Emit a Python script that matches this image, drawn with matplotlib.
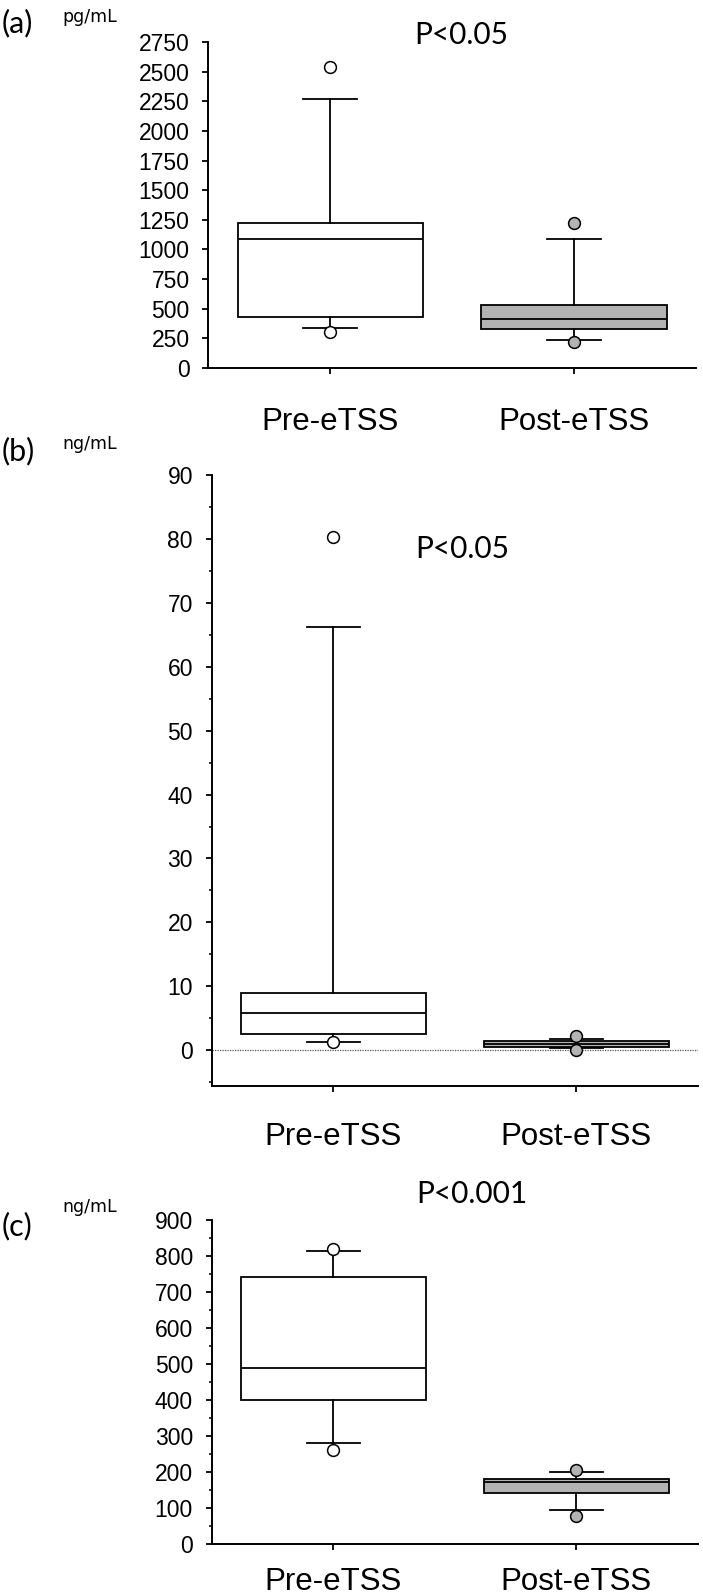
import numpy as np
import matplotlib
matplotlib.use("Agg")
import matplotlib.pyplot as plt
from matplotlib.ticker import MultipleLocator

# box statistics: [Pre-eTSS, Post-eTSS]
groups = ["Pre-eTSS", "Post-eTSS"]

a_whishi = [2275, 1090]
a_q3 = [1220, 530]
a_med = [1090, 415]
a_q1 = [430, 330]
a_whislo = [335, 230]
a_fliers = [[2540, 300], [1225, 220]]

b_whishi = [66.2, 1.8]
b_q3 = [8.9, 1.5]
b_med = [5.8, 1.0]
b_q1 = [2.6, 0.5]
b_whislo = [1.3, 0.3]
b_fliers = [[80.3, 1.3], [2.3, 0.05]]

c_whishi = [815, 202]
c_q3 = [741, 180]
c_med = [488, 172]
c_q1 = [401, 142]
c_whislo = [282, 96]
c_fliers = [[819, 261], [205, 79]]

panel_labels = ["(a)", "(b)", "(c)"]
units = ["pg/mL", "ng/mL", "ng/mL"]
pvalues = ["P<0.05", "P<0.05", "P<0.001"]

W, H = 703, 1596
fig = plt.figure(figsize=(W / 100, H / 100), dpi=100)

def fx(px):
    return px / W

def fy(py):
    return 1 - py / H

def make_ax(l, r, t, b):
    return fig.add_axes([fx(l), fy(b), fx(r) - fx(l), fy(t) - fy(b)])

fills = ["white", "#b3b3b3"]
lw = 1.3

def draw_box(ax, whishi, q3, med, q1, whislo, fliers):
    stats = []
    for i in range(2):
        stats.append(dict(med=med[i], q1=q1[i], q3=q3[i], whislo=whislo[i],
                          whishi=whishi[i], fliers=fliers[i]))
    bp = ax.bxp(stats, positions=[1, 2], widths=0.76, patch_artist=True,
                showfliers=True,
                boxprops=dict(linewidth=lw, edgecolor="black"),
                medianprops=dict(color="black", linewidth=lw),
                whiskerprops=dict(color="black", linewidth=lw),
                capprops=dict(color="black", linewidth=lw),
                capwidths=0.22)
    for patch, c in zip(bp["boxes"], fills):
        patch.set_facecolor(c)
    for fl, c in zip(bp["fliers"], fills):
        fl.set(marker="o", markersize=8.5, markerfacecolor=c,
               markeredgecolor="black", markeredgewidth=1.1, linestyle="none")
    return bp

def style(ax, xpad):
    for s in ["top", "right"]:
        ax.spines[s].set_visible(False)
    for s in ["left", "bottom"]:
        ax.spines[s].set_linewidth(1.4)
    ax.set_xlim(0.5, 2.5)
    ax.set_xticks([1, 2])
    ax.set_xticklabels(groups, fontsize=22.5, family="Liberation Sans")
    ax.tick_params(axis="y", which="major", direction="out", length=4.5,
                   width=1.3, pad=9, labelsize=16.5)
    ax.tick_params(axis="y", which="minor", direction="out", length=2.5, width=1.1)
    ax.tick_params(axis="x", direction="out", length=4.5, width=1.3, pad=xpad)
    for lab in ax.get_yticklabels():
        lab.set_family("Liberation Sans")

# (a)
ax1 = make_ax(208.3, 696, 42.3, 367.7)
draw_box(ax1, a_whishi, a_q3, a_med, a_q1, a_whislo, a_fliers)
ax1.set_ylim(0, 2750)
ax1.set_yticks(np.arange(0, 2751, 250))
style(ax1, 23.5)

# (b)
ax2 = make_ax(211.7, 698, 475, 1086)
ax2.axhline(0, color="#555555", linewidth=0.9, linestyle=(0, (1, 1)), zorder=0)
draw_box(ax2, b_whishi, b_q3, b_med, b_q1, b_whislo, b_fliers)
ax2.set_ylim(-5.6, 90)
ax2.set_yticks(np.arange(0, 91, 10))
ax2.yaxis.set_minor_locator(MultipleLocator(5))
style(ax2, 21.2)

# (c)
ax3 = make_ax(211.7, 698, 1220, 1544.3)
draw_box(ax3, c_whishi, c_q3, c_med, c_q1, c_whislo, c_fliers)
ax3.set_ylim(0, 900)
ax3.set_yticks(np.arange(0, 901, 100))
ax3.yaxis.set_minor_locator(MultipleLocator(50))
style(ax3, 11.8)

# panel labels, units and p-values
label_y = [23, 451, 1226]
unit_y = [17, 444, 1207]
p_xy = [(461, 35), (462, 549), (472, 1194)]
for i in range(3):
    fig.text(fx(2), fy(label_y[i]), panel_labels[i], fontsize=22,
             family=["Lato", "DejaVu Sans"], ha="left", va="center")
    fig.text(fx(62), fy(unit_y[i]), units[i], fontsize=12.5,
             family="DejaVu Sans", ha="left", va="center")
    fig.text(fx(p_xy[i][0]), fy(p_xy[i][1]), pvalues[i], fontsize=21.5,
             family=["Lato", "DejaVu Sans"], ha="center", va="center")

fig.savefig("out.png", dpi=100)
